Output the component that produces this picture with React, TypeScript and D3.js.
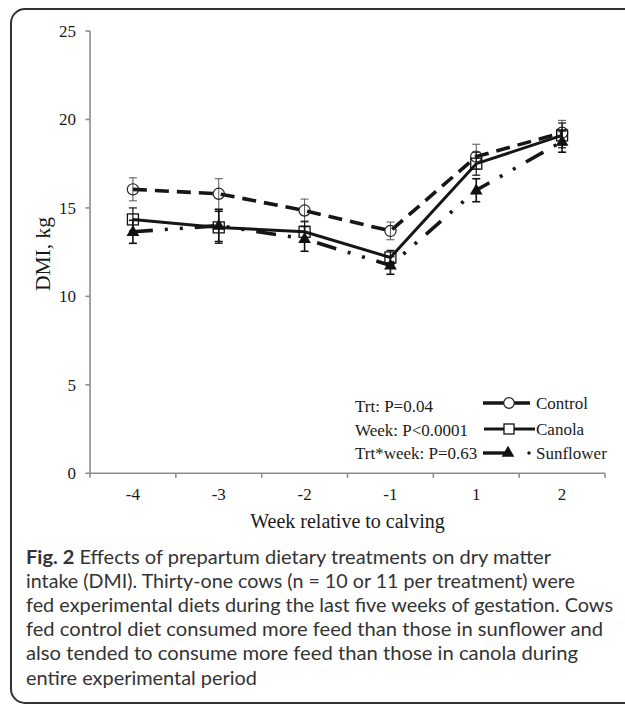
import React from "react";
import * as d3 from "d3";

const weeks = ["-4", "-3", "-2", "-1", "1", "2"];
const yTicks = [0, 5, 10, 15, 20, 25];

const controlMean = [16.05, 15.8, 14.85, 13.7, 17.9, 19.25];
const controlErr = [0.65, 0.85, 0.65, 0.5, 0.7, 0.7];
const canolaMean = [14.35, 13.9, 13.65, 12.2, 17.5, 19.1];
const canolaErr = [0.65, 0.9, 0.6, 0.4, 0.65, 0.7];
const sunflowerMean = [13.65, 14.0, 13.25, 11.75, 16.0, 18.75];
const sunflowerErr = [0.65, 0.9, 0.7, 0.5, 0.65, 0.6];

const statLines = ["Trt: P=0.04", "Week: P<0.0001", "Trt*week: P=0.63"];
const seriesNames = ["Control", "Canola", "Sunflower"];

const captionLines = [
  "Effects of prepartum dietary treatments on dry matter",
  "intake (DMI). Thirty-one cows (n = 10 or 11 per treatment) were",
  "fed experimental diets during the last five weeks of gestation. Cows",
  "fed control diet consumed more feed than those in sunflower and",
  "also tended to consume more feed than those in canola during",
  "entire experimental period",
];
const captionEnds = [551, 575, 613, 603, 578, 257];

const SERIF = "'Liberation Serif', 'Times New Roman', serif";
const SANS = "Lato, 'Open Sans', sans-serif";

export default function App() {
  const x = d3.scaleBand<string>().domain(weeks).range([90, 605]).padding(0);
  const y = d3.scaleLinear().domain([0, 25]).range([473.3, 31]);
  const cx = (w: string) => (x(w) as number) + x.bandwidth() / 2;

  const line = d3
    .line<number>()
    .x((_, i) => cx(weeks[i]))
    .y((d) => y(d));

  const series = [
    { mean: controlMean, err: controlErr, dash: "14 8", width: 3.6, ebColor: "#555", ebWidth: 1 },
    { mean: canolaMean, err: canolaErr, dash: "none", width: 3, ebColor: "#111", ebWidth: 1.2 },
    { mean: sunflowerMean, err: sunflowerErr, dash: "20 12 3 12 3 12", width: 3.6, ebColor: "#111", ebWidth: 1.6 },
  ];

  const triPath = d3.symbol(d3.symbolTriangle, 70)() as string;

  const marker = (k: number, px: number, py: number, key: string) => {
    if (k === 0)
      return <circle key={key} cx={px} cy={py} r={5.6} fill="none" stroke="#222" strokeWidth={1.2} />;
    if (k === 1)
      return <rect key={key} x={px - 5.5} y={py - 5.5} width={11} height={11} fill="none" stroke="#111" strokeWidth={1.3} />;
    return <path key={key} d={triPath} transform={`translate(${px},${py + 0.5})`} fill="#111" />;
  };

  const legendY = [403, 429, 453];

  return (
    <svg
      width={625}
      height={708}
      style={{ position: "absolute", left: 0, top: 0, background: "#fff" }}
    >
      <rect x={0} y={0} width={625} height={708} fill="#fff" />
      {/* frame */}
      <rect x={11} y={9} width={720} height={694} rx={14} ry={14} fill="none" stroke="#333" strokeWidth={2} />

      {/* axes */}
      <g stroke="#8c8c8c" strokeWidth={1.6} fill="none">
        <line x1={90} y1={y(25)} x2={90} y2={y(0)} />
        <line x1={90} y1={y(0)} x2={605} y2={y(0)} />
        {yTicks.map((t) => (
          <line key={"yt" + t} x1={85.5} x2={90} y1={y(t)} y2={y(t)} />
        ))}
        {weeks.map((w) => (
          <line key={"xt" + w} x1={x(w) as number} x2={x(w) as number} y1={y(0)} y2={y(0) + 4.5} />
        ))}
        <line x1={605} x2={605} y1={y(0)} y2={y(0) + 4.5} />
      </g>
      <g fontFamily={SERIF} fontSize={17} fill="#1a1a1a">
        {yTicks.map((t) => (
          <text key={"yl" + t} x={76} y={y(t) + 6} textAnchor="end">
            {t}
          </text>
        ))}
        {weeks.map((w) => (
          <text key={"xl" + w} x={cx(w)} y={499.5} textAnchor="middle">
            {w}
          </text>
        ))}
      </g>
      <text x={347.5} y={527.5} textAnchor="middle" fontFamily={SERIF} fontSize={20} fill="#1a1a1a">
        Week relative to calving
      </text>
      <text
        transform="translate(50,254) rotate(-90)"
        textAnchor="middle"
        fontFamily={SERIF}
        fontSize={21.5}
        fill="#1a1a1a"
      >
        DMI, kg
      </text>

      {/* error bars */}
      {series.map((s, k) =>
        s.mean.map((m, i) => {
          const px = cx(weeks[i]);
          return (
            <g key={`eb${k}-${i}`} stroke={s.ebColor} strokeWidth={s.ebWidth}>
              <line x1={px} x2={px} y1={y(m - s.err[i])} y2={y(m + s.err[i])} />
              <line x1={px - 4} x2={px + 4} y1={y(m - s.err[i])} y2={y(m - s.err[i])} />
              <line x1={px - 4} x2={px + 4} y1={y(m + s.err[i])} y2={y(m + s.err[i])} />
            </g>
          );
        })
      )}

      {/* lines */}
      {series.map((s, k) => (
        <path
          key={"ln" + k}
          d={line(s.mean) as string}
          fill="none"
          stroke="#161616"
          strokeWidth={s.width}
          strokeDasharray={s.dash}
        />
      ))}

      {/* markers */}
      {series.map((s, k) => s.mean.map((m, i) => marker(k, cx(weeks[i]), y(m), `mk${k}-${i}`)))}

      {/* legend */}
      <g fontFamily={SERIF} fontSize={17} fill="#1a1a1a">
        {statLines.map((t, i) => (
          <text key={"st" + i} x={355} y={[411.5, 436, 459][i]}>
            {t}
          </text>
        ))}
        {seriesNames.map((n, i) => (
          <text key={"sn" + i} x={536} y={legendY[i] + 6}>
            {n}
          </text>
        ))}
      </g>
      <g stroke="#161616">
        <line x1={483} x2={530} y1={legendY[0]} y2={legendY[0]} strokeWidth={3.4} />
        <line x1={484} x2={535} y1={legendY[1]} y2={legendY[1]} strokeWidth={3} />
        <line x1={483} x2={510} y1={legendY[2]} y2={legendY[2]} strokeWidth={3.4} />
      </g>
      <circle cx={509} cy={legendY[0]} r={5.3} fill="#fff" stroke="#222" strokeWidth={1.2} />
      <rect x={504} y={legendY[1] - 5} width={10} height={10} fill="#fff" stroke="#111" strokeWidth={1.3} />
      <path d={triPath} transform={`translate(508,${legendY[2]})`} fill="#111" />
      <circle cx={529} cy={legendY[2]} r={1.7} fill="#161616" />

      {/* caption */}
      <g fontFamily={SANS} fontSize={19} fill="#333">
        {captionLines.map((t, i) => (
          <text
            key={"cap" + i}
            x={26}
            y={563.5 + i * 24.2}
            textLength={captionEnds[i] - 26}
            lengthAdjust="spacingAndGlyphs"
          >
            {i === 0 ? (
              <>
                <tspan fontWeight="bold">Fig. 2</tspan> {t}
              </>
            ) : (
              t
            )}
          </text>
        ))}
      </g>
    </svg>
  );
}
